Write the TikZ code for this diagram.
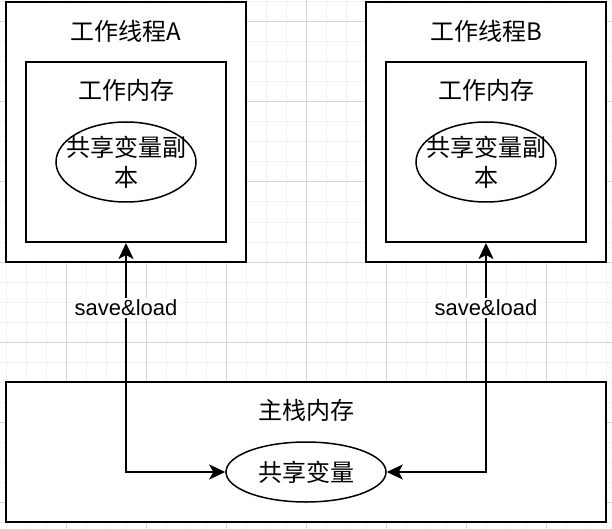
\documentclass[tikz,border=0pt]{standalone}
\usepackage{fontspec}
\setmainfont{Liberation Sans}
\newfontfamily\cjk{Noto Sans CJK SC}
\usepackage{xcolor}
\usetikzlibrary{arrows.meta,shapes.geometric}
\definecolor{gridminor}{HTML}{F0F0F0}
\definecolor{gridmajor}{HTML}{D4D4D4}
\tikzset{
  box/.style={draw, rectangle, line width=2pt, fill=white, inner sep=0pt},
  var/.style={draw, ellipse, line width=1.5pt, fill=white, inner sep=0pt},
  title/.style={inner sep=0pt, align=center, font=\cjk\fontsize{24pt}{30pt}\selectfont},
  link/.style={line width=2pt, {Stealth[length=16pt,width=15pt,inset=4pt]}-{Stealth[length=16pt,width=15pt,inset=4pt]}},
  lbl/.style={fill=white, inner sep=2pt, font=\fontsize{22pt}{26pt}\selectfont}
}
\begin{document}
\begin{tikzpicture}[x=1pt, y=-1pt]%
\useasboundingbox (0,0) rectangle (612,529);%
% grid
\foreach \x in {6,26,...,606} \draw[gridminor, line width=1pt] (\x,0) -- (\x,529);%
\foreach \y in {2,22,...,522} \draw[gridminor, line width=1pt] (0,\y) -- (612,\y);%
\foreach \x in {66,146,...,546} \draw[gridmajor, line width=1pt] (\x,0) -- (\x,529);%
\foreach \y in {22,102,...,502} \draw[gridmajor, line width=1pt] (0,\y) -- (612,\y);%
% threads
\node[box, minimum width=240pt, minimum height=260pt] (threadA) at (126,132) {};%
\node[box, minimum width=200pt, minimum height=180pt] (memA) at (126,152) {};%
\node[var, minimum width=140pt, minimum height=80pt] (copyA) at (126,162) {};%
\node[title] (copytextA) at (copyA) {共享变量副\\本};%
\node[title] (titleA) at (126,31) {工作线程A};%
\node[title] (memtitleA) at (126,90) {工作内存};%
\node[box, minimum width=240pt, minimum height=260pt] (threadB) at (486,132) {};%
\node[box, minimum width=200pt, minimum height=180pt] (memB) at (486,152) {};%
\node[var, minimum width=140pt, minimum height=80pt] (copyB) at (486,162) {};%
\node[title] (copytextB) at (copyB) {共享变量副\\本};%
\node[title] (titleB) at (486,31) {工作线程B};%
\node[title] (memtitleB) at (486,90) {工作内存};%
% main memory
\node[box, minimum width=600pt, minimum height=140pt] (main) at (306,452) {};%
\node[title] (maintitle) at (306,410) {主栈内存};%
\node[var, minimum width=160pt, minimum height=60pt] (shared) at (306,472) {};%
\node[title] (sharedtext) at (shared) {共享变量};%
% save & load
\draw[link] (memA.south) -- (memA.south |- shared.west) -- (shared.west);%
\draw[link] (memB.south) -- (memB.south |- shared.east) -- (shared.east);%
\node[lbl] (lblA) at (126,308) {save\&load};%
\node[lbl] (lblB) at (486,308) {save\&load};%
\end{tikzpicture}
\end{document}
